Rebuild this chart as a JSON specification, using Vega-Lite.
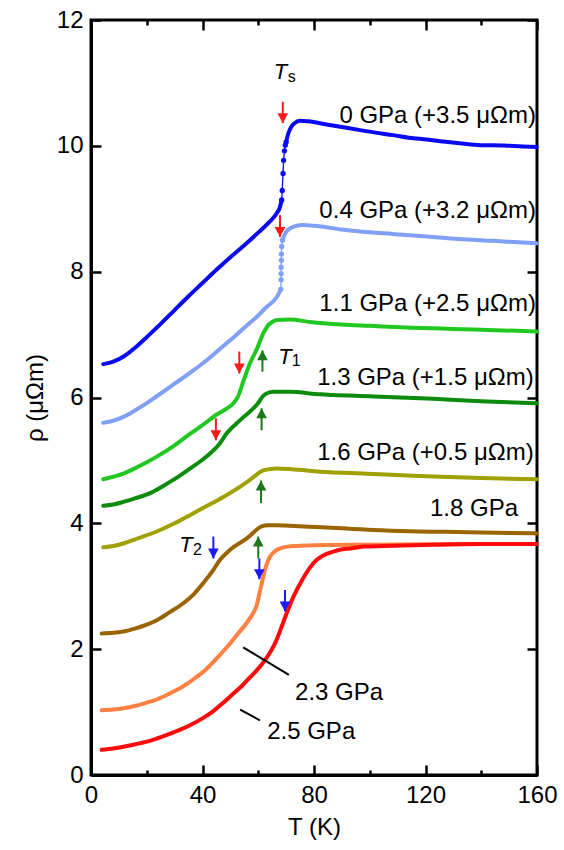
{
  "$schema": "https://vega.github.io/schema/vega-lite/v6.json",
  "width": 446,
  "height": 755,
  "autosize": "none",
  "padding": {"left": 91, "top": 20, "right": 27, "bottom": 75},
  "background": "white",
  "config": {
    "view": {"stroke": "black", "strokeWidth": 3},
    "font": "Liberation Sans",
    "axis": {
      "grid": false,
      "labelFlush": false,
      "labelOverlap": false,
      "domainColor": "black",
      "domainWidth": 3,
      "tickColor": "black",
      "tickWidth": 2.5,
      "tickSize": -10,
      "labelFont": "Liberation Sans",
      "labelFontSize": 24,
      "labelColor": "black",
      "titleFont": "Liberation Sans",
      "titleFontSize": 24,
      "titleFontWeight": "normal",
      "titleColor": "black"
    }
  },
  "datasets": {
    "curves": [
      {"p": "0 GPa", "part": "a", "T": 4.4, "r": 6.53},
      {"p": "0 GPa", "part": "a", "T": 8, "r": 6.57},
      {"p": "0 GPa", "part": "a", "T": 12, "r": 6.66},
      {"p": "0 GPa", "part": "a", "T": 16, "r": 6.80},
      {"p": "0 GPa", "part": "a", "T": 20, "r": 6.96},
      {"p": "0 GPa", "part": "a", "T": 25, "r": 7.17},
      {"p": "0 GPa", "part": "a", "T": 30, "r": 7.39},
      {"p": "0 GPa", "part": "a", "T": 35, "r": 7.61},
      {"p": "0 GPa", "part": "a", "T": 40, "r": 7.82},
      {"p": "0 GPa", "part": "a", "T": 45, "r": 8.03},
      {"p": "0 GPa", "part": "a", "T": 50, "r": 8.23},
      {"p": "0 GPa", "part": "a", "T": 55, "r": 8.42},
      {"p": "0 GPa", "part": "a", "T": 60, "r": 8.62},
      {"p": "0 GPa", "part": "a", "T": 64, "r": 8.79},
      {"p": "0 GPa", "part": "a", "T": 66.5, "r": 8.92},
      {"p": "0 GPa", "part": "a", "T": 67.8, "r": 9.03},
      {"p": "0 GPa", "part": "a", "T": 68.4, "r": 9.14},
      {"p": "0 GPa", "part": "b", "T": 70.0, "r": 10.06},
      {"p": "0 GPa", "part": "b", "T": 70.8, "r": 10.2},
      {"p": "0 GPa", "part": "b", "T": 71.8, "r": 10.30},
      {"p": "0 GPa", "part": "b", "T": 73, "r": 10.36},
      {"p": "0 GPa", "part": "b", "T": 75, "r": 10.40},
      {"p": "0 GPa", "part": "b", "T": 78, "r": 10.39},
      {"p": "0 GPa", "part": "b", "T": 84.5, "r": 10.34},
      {"p": "0 GPa", "part": "b", "T": 90, "r": 10.30},
      {"p": "0 GPa", "part": "b", "T": 96.5, "r": 10.25},
      {"p": "0 GPa", "part": "b", "T": 102, "r": 10.21},
      {"p": "0 GPa", "part": "b", "T": 108.4, "r": 10.17},
      {"p": "0 GPa", "part": "b", "T": 114, "r": 10.13},
      {"p": "0 GPa", "part": "b", "T": 120.4, "r": 10.10},
      {"p": "0 GPa", "part": "b", "T": 128, "r": 10.06},
      {"p": "0 GPa", "part": "b", "T": 134.8, "r": 10.03},
      {"p": "0 GPa", "part": "b", "T": 140, "r": 10.01},
      {"p": "0 GPa", "part": "b", "T": 144.3, "r": 10.01},
      {"p": "0 GPa", "part": "b", "T": 150, "r": 10.0},
      {"p": "0 GPa", "part": "b", "T": 155, "r": 9.99},
      {"p": "0 GPa", "part": "b", "T": 159.9, "r": 9.98},

      {"p": "0.4 GPa", "part": "a", "T": 4.4, "r": 5.60},
      {"p": "0.4 GPa", "part": "a", "T": 8, "r": 5.63},
      {"p": "0.4 GPa", "part": "a", "T": 12, "r": 5.70},
      {"p": "0.4 GPa", "part": "a", "T": 16, "r": 5.80},
      {"p": "0.4 GPa", "part": "a", "T": 20, "r": 5.91},
      {"p": "0.4 GPa", "part": "a", "T": 23.6, "r": 6.02},
      {"p": "0.4 GPa", "part": "a", "T": 30, "r": 6.22},
      {"p": "0.4 GPa", "part": "a", "T": 35.5, "r": 6.39},
      {"p": "0.4 GPa", "part": "a", "T": 40, "r": 6.54},
      {"p": "0.4 GPa", "part": "a", "T": 47.5, "r": 6.82},
      {"p": "0.4 GPa", "part": "a", "T": 51, "r": 6.95},
      {"p": "0.4 GPa", "part": "a", "T": 55, "r": 7.11},
      {"p": "0.4 GPa", "part": "a", "T": 59.4, "r": 7.28},
      {"p": "0.4 GPa", "part": "a", "T": 63, "r": 7.44},
      {"p": "0.4 GPa", "part": "a", "T": 65.4, "r": 7.53},
      {"p": "0.4 GPa", "part": "a", "T": 67, "r": 7.62},
      {"p": "0.4 GPa", "part": "a", "T": 68.1, "r": 7.72},
      {"p": "0.4 GPa", "part": "b", "T": 68.7, "r": 8.50},
      {"p": "0.4 GPa", "part": "b", "T": 69.4, "r": 8.58},
      {"p": "0.4 GPa", "part": "b", "T": 70.2, "r": 8.64},
      {"p": "0.4 GPa", "part": "b", "T": 71.5, "r": 8.69},
      {"p": "0.4 GPa", "part": "b", "T": 73.8, "r": 8.73},
      {"p": "0.4 GPa", "part": "b", "T": 76, "r": 8.74},
      {"p": "0.4 GPa", "part": "b", "T": 80, "r": 8.73},
      {"p": "0.4 GPa", "part": "b", "T": 90, "r": 8.67},
      {"p": "0.4 GPa", "part": "b", "T": 96.5, "r": 8.64},
      {"p": "0.4 GPa", "part": "b", "T": 108, "r": 8.60},
      {"p": "0.4 GPa", "part": "b", "T": 120.4, "r": 8.56},
      {"p": "0.4 GPa", "part": "b", "T": 132, "r": 8.52},
      {"p": "0.4 GPa", "part": "b", "T": 144.3, "r": 8.49},
      {"p": "0.4 GPa", "part": "b", "T": 152, "r": 8.47},
      {"p": "0.4 GPa", "part": "b", "T": 159.9, "r": 8.45},

      {"p": "1.1 GPa", "part": "a", "T": 4.4, "r": 4.70},
      {"p": "1.1 GPa", "part": "a", "T": 8, "r": 4.74},
      {"p": "1.1 GPa", "part": "a", "T": 11.6, "r": 4.79},
      {"p": "1.1 GPa", "part": "a", "T": 16, "r": 4.88},
      {"p": "1.1 GPa", "part": "a", "T": 20, "r": 4.97},
      {"p": "1.1 GPa", "part": "a", "T": 23.6, "r": 5.06},
      {"p": "1.1 GPa", "part": "a", "T": 30, "r": 5.24},
      {"p": "1.1 GPa", "part": "a", "T": 35.5, "r": 5.42},
      {"p": "1.1 GPa", "part": "a", "T": 40, "r": 5.56},
      {"p": "1.1 GPa", "part": "a", "T": 45.1, "r": 5.73},
      {"p": "1.1 GPa", "part": "a", "T": 48.5, "r": 5.82},
      {"p": "1.1 GPa", "part": "a", "T": 51.1, "r": 5.91},
      {"p": "1.1 GPa", "part": "a", "T": 52.8, "r": 6.02},
      {"p": "1.1 GPa", "part": "a", "T": 54.6, "r": 6.25},
      {"p": "1.1 GPa", "part": "a", "T": 57.0, "r": 6.54},
      {"p": "1.1 GPa", "part": "a", "T": 59.4, "r": 6.76},
      {"p": "1.1 GPa", "part": "a", "T": 61.8, "r": 7.02},
      {"p": "1.1 GPa", "part": "a", "T": 63.6, "r": 7.15},
      {"p": "1.1 GPa", "part": "a", "T": 65, "r": 7.20},
      {"p": "1.1 GPa", "part": "a", "T": 66.6, "r": 7.23},
      {"p": "1.1 GPa", "part": "a", "T": 71.5, "r": 7.24},
      {"p": "1.1 GPa", "part": "a", "T": 78.6, "r": 7.20},
      {"p": "1.1 GPa", "part": "a", "T": 90, "r": 7.16},
      {"p": "1.1 GPa", "part": "a", "T": 100, "r": 7.14},
      {"p": "1.1 GPa", "part": "a", "T": 115, "r": 7.11},
      {"p": "1.1 GPa", "part": "a", "T": 130, "r": 7.09},
      {"p": "1.1 GPa", "part": "a", "T": 145, "r": 7.07},
      {"p": "1.1 GPa", "part": "a", "T": 159.9, "r": 7.05},

      {"p": "1.3 GPa", "part": "a", "T": 4.4, "r": 4.28},
      {"p": "1.3 GPa", "part": "a", "T": 8, "r": 4.30},
      {"p": "1.3 GPa", "part": "a", "T": 11.6, "r": 4.34},
      {"p": "1.3 GPa", "part": "a", "T": 16, "r": 4.40},
      {"p": "1.3 GPa", "part": "a", "T": 21.2, "r": 4.48},
      {"p": "1.3 GPa", "part": "a", "T": 25, "r": 4.57},
      {"p": "1.3 GPa", "part": "a", "T": 29.5, "r": 4.69},
      {"p": "1.3 GPa", "part": "a", "T": 35.5, "r": 4.87},
      {"p": "1.3 GPa", "part": "a", "T": 40, "r": 5.01},
      {"p": "1.3 GPa", "part": "a", "T": 42.7, "r": 5.11},
      {"p": "1.3 GPa", "part": "a", "T": 45.7, "r": 5.24},
      {"p": "1.3 GPa", "part": "a", "T": 48.7, "r": 5.43},
      {"p": "1.3 GPa", "part": "a", "T": 53.5, "r": 5.64},
      {"p": "1.3 GPa", "part": "a", "T": 59.4, "r": 5.88},
      {"p": "1.3 GPa", "part": "a", "T": 62.4, "r": 6.05},
      {"p": "1.3 GPa", "part": "a", "T": 65.4, "r": 6.09},
      {"p": "1.3 GPa", "part": "a", "T": 71.4, "r": 6.09},
      {"p": "1.3 GPa", "part": "a", "T": 82.2, "r": 6.05},
      {"p": "1.3 GPa", "part": "a", "T": 86.9, "r": 6.04},
      {"p": "1.3 GPa", "part": "a", "T": 100, "r": 6.02},
      {"p": "1.3 GPa", "part": "a", "T": 122.8, "r": 5.98},
      {"p": "1.3 GPa", "part": "a", "T": 140, "r": 5.94},
      {"p": "1.3 GPa", "part": "a", "T": 159.9, "r": 5.91},

      {"p": "1.6 GPa", "part": "a", "T": 4.4, "r": 3.62},
      {"p": "1.6 GPa", "part": "a", "T": 8, "r": 3.64},
      {"p": "1.6 GPa", "part": "a", "T": 11.6, "r": 3.68},
      {"p": "1.6 GPa", "part": "a", "T": 16, "r": 3.75},
      {"p": "1.6 GPa", "part": "a", "T": 23.6, "r": 3.87},
      {"p": "1.6 GPa", "part": "a", "T": 30, "r": 4.00},
      {"p": "1.6 GPa", "part": "a", "T": 35.5, "r": 4.13},
      {"p": "1.6 GPa", "part": "a", "T": 40, "r": 4.24},
      {"p": "1.6 GPa", "part": "a", "T": 47.5, "r": 4.42},
      {"p": "1.6 GPa", "part": "a", "T": 52, "r": 4.54},
      {"p": "1.6 GPa", "part": "a", "T": 57.0, "r": 4.69},
      {"p": "1.6 GPa", "part": "a", "T": 61.8, "r": 4.84},
      {"p": "1.6 GPa", "part": "a", "T": 64, "r": 4.86},
      {"p": "1.6 GPa", "part": "a", "T": 66.6, "r": 4.87},
      {"p": "1.6 GPa", "part": "a", "T": 72, "r": 4.86},
      {"p": "1.6 GPa", "part": "a", "T": 82.2, "r": 4.82},
      {"p": "1.6 GPa", "part": "a", "T": 98.9, "r": 4.79},
      {"p": "1.6 GPa", "part": "a", "T": 120, "r": 4.75},
      {"p": "1.6 GPa", "part": "a", "T": 140, "r": 4.72},
      {"p": "1.6 GPa", "part": "a", "T": 159.9, "r": 4.70},

      {"p": "1.8 GPa", "part": "a", "T": 3.8, "r": 2.25},
      {"p": "1.8 GPa", "part": "a", "T": 8, "r": 2.26},
      {"p": "1.8 GPa", "part": "a", "T": 11.6, "r": 2.28},
      {"p": "1.8 GPa", "part": "a", "T": 16, "r": 2.33},
      {"p": "1.8 GPa", "part": "a", "T": 20, "r": 2.39},
      {"p": "1.8 GPa", "part": "a", "T": 23.6, "r": 2.46},
      {"p": "1.8 GPa", "part": "a", "T": 28, "r": 2.58},
      {"p": "1.8 GPa", "part": "a", "T": 33.1, "r": 2.73},
      {"p": "1.8 GPa", "part": "a", "T": 37, "r": 2.88},
      {"p": "1.8 GPa", "part": "a", "T": 40.3, "r": 3.05},
      {"p": "1.8 GPa", "part": "a", "T": 43.9, "r": 3.26},
      {"p": "1.8 GPa", "part": "a", "T": 46.3, "r": 3.42},
      {"p": "1.8 GPa", "part": "a", "T": 49.9, "r": 3.58},
      {"p": "1.8 GPa", "part": "a", "T": 55.9, "r": 3.76},
      {"p": "1.8 GPa", "part": "a", "T": 61.2, "r": 3.95},
      {"p": "1.8 GPa", "part": "a", "T": 63.5, "r": 3.97},
      {"p": "1.8 GPa", "part": "a", "T": 66.6, "r": 3.97},
      {"p": "1.8 GPa", "part": "a", "T": 76.2, "r": 3.95},
      {"p": "1.8 GPa", "part": "a", "T": 90, "r": 3.92},
      {"p": "1.8 GPa", "part": "a", "T": 110.8, "r": 3.88},
      {"p": "1.8 GPa", "part": "a", "T": 135, "r": 3.86},
      {"p": "1.8 GPa", "part": "a", "T": 159.9, "r": 3.84},

      {"p": "2.3 GPa", "part": "a", "T": 3.8, "r": 1.03},
      {"p": "2.3 GPa", "part": "a", "T": 8, "r": 1.04},
      {"p": "2.3 GPa", "part": "a", "T": 11.6, "r": 1.06},
      {"p": "2.3 GPa", "part": "a", "T": 16, "r": 1.10},
      {"p": "2.3 GPa", "part": "a", "T": 20, "r": 1.15},
      {"p": "2.3 GPa", "part": "a", "T": 23.6, "r": 1.20},
      {"p": "2.3 GPa", "part": "a", "T": 28, "r": 1.29},
      {"p": "2.3 GPa", "part": "a", "T": 33.1, "r": 1.41},
      {"p": "2.3 GPa", "part": "a", "T": 37, "r": 1.53},
      {"p": "2.3 GPa", "part": "a", "T": 41.5, "r": 1.69},
      {"p": "2.3 GPa", "part": "a", "T": 45, "r": 1.85},
      {"p": "2.3 GPa", "part": "a", "T": 49.9, "r": 2.09},
      {"p": "2.3 GPa", "part": "a", "T": 53, "r": 2.26},
      {"p": "2.3 GPa", "part": "a", "T": 55.9, "r": 2.42},
      {"p": "2.3 GPa", "part": "a", "T": 58, "r": 2.56},
      {"p": "2.3 GPa", "part": "a", "T": 59.4, "r": 2.69},
      {"p": "2.3 GPa", "part": "a", "T": 60.6, "r": 2.92},
      {"p": "2.3 GPa", "part": "a", "T": 61.3, "r": 3.05},
      {"p": "2.3 GPa", "part": "a", "T": 62.4, "r": 3.26},
      {"p": "2.3 GPa", "part": "a", "T": 63.2, "r": 3.37},
      {"p": "2.3 GPa", "part": "a", "T": 64.2, "r": 3.47},
      {"p": "2.3 GPa", "part": "a", "T": 65.8, "r": 3.55},
      {"p": "2.3 GPa", "part": "a", "T": 67.8, "r": 3.60},
      {"p": "2.3 GPa", "part": "a", "T": 70.5, "r": 3.63},
      {"p": "2.3 GPa", "part": "a", "T": 73.8, "r": 3.64},
      {"p": "2.3 GPa", "part": "a", "T": 80, "r": 3.65},
      {"p": "2.3 GPa", "part": "a", "T": 98.9, "r": 3.66},
      {"p": "2.3 GPa", "part": "a", "T": 130, "r": 3.67},
      {"p": "2.3 GPa", "part": "a", "T": 159.9, "r": 3.67},

      {"p": "2.5 GPa", "part": "a", "T": 3.8, "r": 0.40},
      {"p": "2.5 GPa", "part": "a", "T": 8, "r": 0.42},
      {"p": "2.5 GPa", "part": "a", "T": 11.6, "r": 0.45},
      {"p": "2.5 GPa", "part": "a", "T": 16, "r": 0.49},
      {"p": "2.5 GPa", "part": "a", "T": 20, "r": 0.53},
      {"p": "2.5 GPa", "part": "a", "T": 23.6, "r": 0.58},
      {"p": "2.5 GPa", "part": "a", "T": 28, "r": 0.65},
      {"p": "2.5 GPa", "part": "a", "T": 32, "r": 0.72},
      {"p": "2.5 GPa", "part": "a", "T": 35.5, "r": 0.79},
      {"p": "2.5 GPa", "part": "a", "T": 40, "r": 0.90},
      {"p": "2.5 GPa", "part": "a", "T": 44, "r": 1.02},
      {"p": "2.5 GPa", "part": "a", "T": 47.5, "r": 1.15},
      {"p": "2.5 GPa", "part": "a", "T": 51, "r": 1.29},
      {"p": "2.5 GPa", "part": "a", "T": 54, "r": 1.41},
      {"p": "2.5 GPa", "part": "a", "T": 57, "r": 1.55},
      {"p": "2.5 GPa", "part": "a", "T": 60, "r": 1.69},
      {"p": "2.5 GPa", "part": "a", "T": 62.5, "r": 1.83},
      {"p": "2.5 GPa", "part": "a", "T": 64.8, "r": 1.99},
      {"p": "2.5 GPa", "part": "a", "T": 66.6, "r": 2.15},
      {"p": "2.5 GPa", "part": "a", "T": 68.5, "r": 2.37},
      {"p": "2.5 GPa", "part": "a", "T": 70.2, "r": 2.57},
      {"p": "2.5 GPa", "part": "a", "T": 72.6, "r": 2.83},
      {"p": "2.5 GPa", "part": "a", "T": 75, "r": 3.04},
      {"p": "2.5 GPa", "part": "a", "T": 78.6, "r": 3.30},
      {"p": "2.5 GPa", "part": "a", "T": 81, "r": 3.42},
      {"p": "2.5 GPa", "part": "a", "T": 83.3, "r": 3.49},
      {"p": "2.5 GPa", "part": "a", "T": 86.9, "r": 3.55},
      {"p": "2.5 GPa", "part": "a", "T": 89.3, "r": 3.58},
      {"p": "2.5 GPa", "part": "a", "T": 92.9, "r": 3.60},
      {"p": "2.5 GPa", "part": "a", "T": 98, "r": 3.63},
      {"p": "2.5 GPa", "part": "a", "T": 104.9, "r": 3.64},
      {"p": "2.5 GPa", "part": "a", "T": 122.8, "r": 3.66},
      {"p": "2.5 GPa", "part": "a", "T": 140, "r": 3.67},
      {"p": "2.5 GPa", "part": "a", "T": 159.9, "r": 3.67}
    ],
    "jump": [
      {"p": "0 GPa", "T": 68.4, "r": 9.14},
      {"p": "0 GPa", "T": 68.6, "r": 9.29},
      {"p": "0 GPa", "T": 68.9, "r": 9.56},
      {"p": "0 GPa", "T": 69.1, "r": 9.77},
      {"p": "0 GPa", "T": 69.4, "r": 9.92},
      {"p": "0 GPa", "T": 69.7, "r": 10.01},
      {"p": "0 GPa", "T": 70.0, "r": 10.06},
      {"p": "0.4 GPa", "T": 68.1, "r": 7.72},
      {"p": "0.4 GPa", "T": 68.2, "r": 7.87},
      {"p": "0.4 GPa", "T": 68.2, "r": 7.97},
      {"p": "0.4 GPa", "T": 68.2, "r": 8.07},
      {"p": "0.4 GPa", "T": 68.3, "r": 8.18},
      {"p": "0.4 GPa", "T": 68.3, "r": 8.28},
      {"p": "0.4 GPa", "T": 68.4, "r": 8.40},
      {"p": "0.4 GPa", "T": 68.7, "r": 8.50}
    ],
    "arrows": [
      {"type": "Ts", "T": 68.8, "tail": 10.70, "tip": 10.36},
      {"type": "Ts", "T": 67.8, "tail": 8.90, "tip": 8.55},
      {"type": "Ts", "T": 53.2, "tail": 6.73, "tip": 6.38},
      {"type": "Ts", "T": 44.8, "tail": 5.67, "tip": 5.32},
      {"type": "T1", "T": 61.5, "tail": 6.41, "tip": 6.75},
      {"type": "T1", "T": 61.2, "tail": 5.48, "tip": 5.83},
      {"type": "T1", "T": 61.0, "tail": 4.32, "tip": 4.68},
      {"type": "T1", "T": 60.0, "tail": 3.44, "tip": 3.79},
      {"type": "T2", "T": 43.9, "tail": 3.79, "tip": 3.44},
      {"type": "T2", "T": 60.4, "tail": 3.44, "tip": 3.11},
      {"type": "T2", "T": 69.6, "tail": 2.94, "tip": 2.60}
    ],
    "labelsRight": [
      {"label": "0 GPa (+3.5 μΩm)", "T": 159.6, "r": 10.37},
      {"label": "0.4 GPa (+3.2 μΩm)", "T": 159.6, "r": 8.85},
      {"label": "1.1 GPa (+2.5 μΩm)", "T": 159.6, "r": 7.37},
      {"label": "1.3 GPa (+1.5 μΩm)", "T": 158.8, "r": 6.20},
      {"label": "1.6 GPa (+0.5 μΩm)", "T": 158.8, "r": 5.0},
      {"label": "1.8 GPa", "T": 153.2, "r": 4.12}
    ],
    "labelsLeft": [
      {"label": "2.3 GPa", "T": 73.2, "r": 1.20},
      {"label": "2.5 GPa", "T": 63.2, "r": 0.58}
    ],
    "tsym": [
      {"label": "T", "T": 65.6, "r": 11.07},
      {"label": "T", "T": 67.2, "r": 6.54},
      {"label": "T", "T": 31.7, "r": 3.54}
    ],
    "tsub": [
      {"label": "s", "T": 70.6, "r": 11.02},
      {"label": "1", "T": 72.0, "r": 6.50},
      {"label": "2", "T": 36.6, "r": 3.50}
    ],
    "leaders": [
      {"T": 54.6, "r": 2.03, "T2": 71.0, "r2": 1.59},
      {"T": 53.5, "r": 1.04, "T2": 60.6, "r2": 0.87}
    ]
  },
  "layer": [
    {
      "data": {"name": "curves"},
      "mark": {"type": "line", "strokeWidth": 4, "strokeCap": "round", "strokeJoin": "round", "interpolate": "monotone"},
      "encoding": {
        "x": {"field": "T", "type": "quantitative", "scale": {"domain": [0, 160], "nice": false},
              "axis": {"orient": "bottom", "values": [0, 40, 80, 120, 160], "title": "T (K)", "labelPadding": 18, "titlePadding": 8}},
        "y": {"field": "r", "type": "quantitative", "scale": {"domain": [0, 12], "nice": false, "zero": false},
              "axis": {"orient": "left", "values": [0, 2, 4, 6, 8, 10, 12], "title": "ρ (μΩm)", "labelPadding": 18, "titlePadding": 9}},
        "color": {"field": "p", "type": "nominal", "legend": null,
                  "scale": {"domain": ["0 GPa", "0.4 GPa", "1.1 GPa", "1.3 GPa", "1.6 GPa", "1.8 GPa", "2.3 GPa", "2.5 GPa"],
                            "range": ["#0a0af0", "#80a0f5", "#22c822", "#0c8c0c", "#a0a000", "#9a6400", "#ff8040", "#ff0a0a"]}},
        "detail": {"field": "part"}
      }
    },
    {
      "data": {"name": "jump"},
      "mark": {"type": "line", "strokeWidth": 1.3},
      "encoding": {
        "x": {"field": "T", "type": "quantitative",
              "axis": {"orient": "bottom", "values": [20, 60, 100, 140], "tickSize": -5, "labels": false, "domain": false, "title": null}},
        "y": {"field": "r", "type": "quantitative",
              "axis": {"orient": "right", "values": [0, 2, 4, 6, 8, 10, 12], "labels": false, "domain": false, "title": null}},
        "color": {"field": "p", "type": "nominal", "legend": null},
        "order": {"field": "r"}
      }
    },
    {
      "data": {"name": "jump"},
      "mark": {"type": "point", "filled": true, "size": 28, "opacity": 1},
      "encoding": {
        "x": {"field": "T", "type": "quantitative",
              "axis": {"orient": "top", "values": [0, 40, 80, 120, 160], "labels": false, "domain": false, "title": null}},
        "y": {"field": "r", "type": "quantitative", "axis": null},
        "color": {"field": "p", "type": "nominal", "legend": null}
      }
    },
    {
      "data": {"name": "arrows"},
      "mark": {"type": "rule", "strokeWidth": 2},
      "encoding": {
        "x": {"field": "T", "type": "quantitative",
              "axis": {"orient": "top", "values": [20, 60, 100, 140], "tickSize": -5, "labels": false, "domain": false, "title": null}},
        "y": {"field": "tail", "type": "quantitative", "axis": null},
        "y2": {"field": "tip"},
        "stroke": {"field": "type", "type": "nominal", "legend": null,
                   "scale": {"domain": ["Ts", "T1", "T2"], "range": ["#ff1a1a", "#1a7a1a", "#1a1aff"]}}
      }
    },
    {
      "data": {"name": "arrows"},
      "mark": {"type": "point", "filled": true, "size": 100, "opacity": 1, "strokeWidth": 0},
      "encoding": {
        "x": {"field": "T", "type": "quantitative", "axis": null},
        "y": {"field": "tip", "type": "quantitative", "axis": null},
        "fill": {"field": "type", "type": "nominal", "legend": null,
                 "scale": {"domain": ["Ts", "T1", "T2"], "range": ["#ff1a1a", "#1a7a1a", "#1a1aff"]}},
        "shape": {"field": "type", "type": "nominal", "legend": null,
                  "scale": {"domain": ["Ts", "T1", "T2"], "range": ["M0,0L-1.07,-2L1.07,-2Z", "M0,0L-1.07,2L1.07,2Z", "M0,0L-1.07,-2L1.07,-2Z"]}}
      }
    },
    {
      "data": {"name": "leaders"},
      "mark": {"type": "rule", "strokeWidth": 2, "color": "black"},
      "encoding": {
        "x": {"field": "T", "type": "quantitative", "axis": null},
        "y": {"field": "r", "type": "quantitative", "axis": null},
        "x2": {"field": "T2"},
        "y2": {"field": "r2"}
      }
    },
    {
      "data": {"name": "labelsRight"},
      "mark": {"type": "text", "align": "right", "baseline": "alphabetic", "font": "Liberation Sans", "fontSize": 24, "color": "black"},
      "encoding": {
        "x": {"field": "T", "type": "quantitative", "axis": null},
        "y": {"field": "r", "type": "quantitative", "axis": null},
        "text": {"field": "label"}
      }
    },
    {
      "data": {"name": "labelsLeft"},
      "mark": {"type": "text", "align": "left", "baseline": "alphabetic", "font": "Liberation Sans", "fontSize": 24, "color": "black"},
      "encoding": {
        "x": {"field": "T", "type": "quantitative", "axis": null},
        "y": {"field": "r", "type": "quantitative", "axis": null},
        "text": {"field": "label"}
      }
    },
    {
      "data": {"name": "tsym"},
      "mark": {"type": "text", "align": "left", "baseline": "alphabetic", "font": "Liberation Sans", "fontSize": 22, "fontStyle": "italic", "color": "black"},
      "encoding": {
        "x": {"field": "T", "type": "quantitative", "axis": null},
        "y": {"field": "r", "type": "quantitative", "axis": null},
        "text": {"field": "label"}
      }
    },
    {
      "data": {"name": "tsub"},
      "mark": {"type": "text", "align": "left", "baseline": "alphabetic", "font": "Liberation Sans", "fontSize": 16, "color": "black"},
      "encoding": {
        "x": {"field": "T", "type": "quantitative", "axis": null},
        "y": {"field": "r", "type": "quantitative", "axis": null},
        "text": {"field": "label"}
      }
    }
  ],
  "resolve": {"axis": {"x": "independent", "y": "independent"}}
}
